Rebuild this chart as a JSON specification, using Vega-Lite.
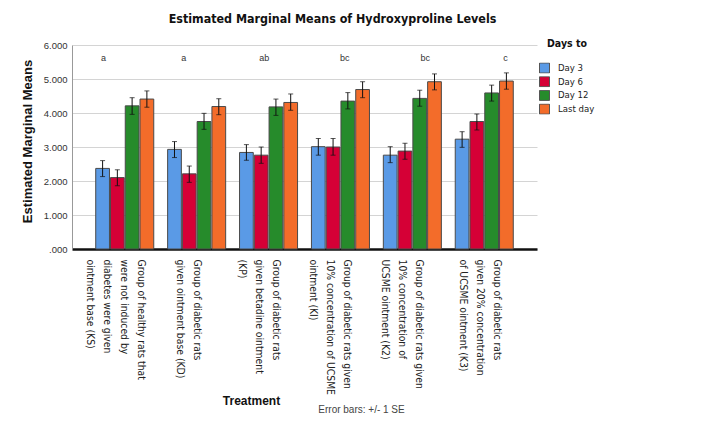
{
  "$schema": "https://vega.github.io/schema/vega-lite/v6.json",
  "autosize": "none",
  "width": 465,
  "height": 204,
  "padding": {"left": 72, "top": 45, "right": 183, "bottom": 180},
  "background": "white",
  "title": {
    "text": "Estimated Marginal Means of Hydroxyproline Levels",
    "font": "DejaVu Sans Condensed, DejaVu Sans",
    "fontSize": 12.4,
    "fontWeight": "bold",
    "color": "#111",
    "anchor": "middle",
    "dx": 28,
    "offset": 14
  },
  "config": {
    "view": {"stroke": null},
    "axis": {"labelFont": "Liberation Sans, Arial", "titleFont": "Liberation Sans, Arial"},
    "axisY": {
      "tickCount": 7,
      "labelOverlap": false,
      "labelFontSize": 9.5,
      "labelColor": "#333",
      "labelPadding": 5,
      "ticks": false,
      "domainColor": "#999",
      "gridColor": "#d4d4d4",
      "gridWidth": 1,
      "titleFontSize": 13,
      "titleFontWeight": "bold",
      "titleColor": "#111",
      "titlePadding": 9
    }
  },
  "datasets": {
    "bars": [
      {"treatment": "Group of healthy rats that|were not induced by|diabetes were given|ointment base (KS)", "day": "Day 3", "mean": 2.37, "lo": 2.13, "hi": 2.60},
      {"treatment": "Group of healthy rats that|were not induced by|diabetes were given|ointment base (KS)", "day": "Day 6", "mean": 2.10, "lo": 1.86, "hi": 2.33},
      {"treatment": "Group of healthy rats that|were not induced by|diabetes were given|ointment base (KS)", "day": "Day 12", "mean": 4.21, "lo": 3.96, "hi": 4.45},
      {"treatment": "Group of healthy rats that|were not induced by|diabetes were given|ointment base (KS)", "day": "Last day", "mean": 4.41, "lo": 4.17, "hi": 4.65},
      {"treatment": "Group of diabetic rats|given ointment base (KD)", "day": "Day 3", "mean": 2.93, "lo": 2.69, "hi": 3.16},
      {"treatment": "Group of diabetic rats|given ointment base (KD)", "day": "Day 6", "mean": 2.21, "lo": 1.96, "hi": 2.44},
      {"treatment": "Group of diabetic rats|given ointment base (KD)", "day": "Day 12", "mean": 3.75, "lo": 3.52, "hi": 3.99},
      {"treatment": "Group of diabetic rats|given ointment base (KD)", "day": "Last day", "mean": 4.19, "lo": 3.95, "hi": 4.42},
      {"treatment": "Group of diabetic rats|given betadine ointment|(KP)", "day": "Day 3", "mean": 2.84, "lo": 2.61, "hi": 3.07},
      {"treatment": "Group of diabetic rats|given betadine ointment|(KP)", "day": "Day 6", "mean": 2.76, "lo": 2.52, "hi": 3.00},
      {"treatment": "Group of diabetic rats|given betadine ointment|(KP)", "day": "Day 12", "mean": 4.18, "lo": 3.93, "hi": 4.41},
      {"treatment": "Group of diabetic rats|given betadine ointment|(KP)", "day": "Last day", "mean": 4.31, "lo": 4.08, "hi": 4.56},
      {"treatment": "Group of diabetic rats given|10% concentration of UCSME|ointment (KI)", "day": "Day 3", "mean": 3.01, "lo": 2.76, "hi": 3.25},
      {"treatment": "Group of diabetic rats given|10% concentration of UCSME|ointment (KI)", "day": "Day 6", "mean": 3.00, "lo": 2.76, "hi": 3.25},
      {"treatment": "Group of diabetic rats given|10% concentration of UCSME|ointment (KI)", "day": "Day 12", "mean": 4.35, "lo": 4.12, "hi": 4.60},
      {"treatment": "Group of diabetic rats given|10% concentration of UCSME|ointment (KI)", "day": "Last day", "mean": 4.69, "lo": 4.45, "hi": 4.92},
      {"treatment": "Group of diabetic rats given|10% concentration of|UCSME ointment (K2)", "day": "Day 3", "mean": 2.76, "lo": 2.54, "hi": 3.01},
      {"treatment": "Group of diabetic rats given|10% concentration of|UCSME ointment (K2)", "day": "Day 6", "mean": 2.88, "lo": 2.64, "hi": 3.11},
      {"treatment": "Group of diabetic rats given|10% concentration of|UCSME ointment (K2)", "day": "Day 12", "mean": 4.43, "lo": 4.20, "hi": 4.67},
      {"treatment": "Group of diabetic rats given|10% concentration of|UCSME ointment (K2)", "day": "Last day", "mean": 4.92, "lo": 4.68, "hi": 5.15},
      {"treatment": "Group of diabetic rats|given 20% concentration|of UCSME ointment (K3)", "day": "Day 3", "mean": 3.23, "lo": 2.99, "hi": 3.45},
      {"treatment": "Group of diabetic rats|given 20% concentration|of UCSME ointment (K3)", "day": "Day 6", "mean": 3.75, "lo": 3.50, "hi": 3.97},
      {"treatment": "Group of diabetic rats|given 20% concentration|of UCSME ointment (K3)", "day": "Day 12", "mean": 4.59, "lo": 4.35, "hi": 4.82},
      {"treatment": "Group of diabetic rats|given 20% concentration|of UCSME ointment (K3)", "day": "Last day", "mean": 4.94, "lo": 4.70, "hi": 5.18}
    ],
    "letters": [
      {"treatment": "Group of healthy rats that|were not induced by|diabetes were given|ointment base (KS)", "letter": "a"},
      {"treatment": "Group of diabetic rats|given ointment base (KD)", "letter": "a"},
      {"treatment": "Group of diabetic rats|given betadine ointment|(KP)", "letter": "ab"},
      {"treatment": "Group of diabetic rats given|10% concentration of UCSME|ointment (KI)", "letter": "bc"},
      {"treatment": "Group of diabetic rats given|10% concentration of|UCSME ointment (K2)", "letter": "bc"},
      {"treatment": "Group of diabetic rats|given 20% concentration|of UCSME ointment (K3)", "letter": "c"}
    ]
  },
  "layer": [
    {
      "data": {"name": "bars"},
      "encoding": {
        "x": {
          "field": "treatment",
          "type": "nominal",
          "sort": null,
          "scale": {"paddingInner": 0.193, "paddingOuter": 0.33},
          "axis": {
            "title": "Treatment",
            "titleFontSize": 12,
            "titleFontWeight": "bold",
            "titleColor": "#111",
            "titleX": 179,
            "titleY": 151,
            "titleBaseline": "middle",
            "titleAlign": "center",
            "labelExpr": "split(datum.label, '|')",
            "labelAngle": 90,
            "labelAlign": "left",
            "labelBaseline": "middle",
            "labelFont": "Liberation Sans Narrow, DejaVu Sans Condensed, sans-serif",
            "labelFontSize": 10.3,
            "labelLineHeight": 17,
            "labelColor": "#222",
            "labelOffset": {
              "condition": [
                {"test": "length(split(datum.value, '|')) == 4", "value": 16},
                {"test": "length(split(datum.value, '|')) == 2", "value": 0},
                {"test": "indexof(datum.value, '(K3)') >= 0", "value": 13}
              ],
              "value": 7
            },
            "labelPadding": 10,
            "labelLimit": 0,
            "ticks": false,
            "domainColor": "#111",
            "domainWidth": 2.5
          }
        },
        "xOffset": {
          "field": "day",
          "type": "nominal",
          "scale": {"domain": ["Day 3", "Day 6", "Day 12", "Last day"], "paddingInner": 0.07}
        }
      },
      "layer": [
        {
          "mark": {"type": "bar", "stroke": "#4a4a4a", "strokeWidth": 1},
          "encoding": {
            "y": {
              "field": "mean",
              "type": "quantitative",
              "scale": {"domain": [0, 6]},
              "axis": {
                "title": "Estimated Marginal Means",
                "titleY": 96,
                "values": [0, 1, 2, 3, 4, 5, 6],
                "labelExpr": "datum.value == 0 ? '.000' : format(datum.value, '.3f')"
              }
            },
            "color": {
              "field": "day",
              "type": "nominal",
              "scale": {
                "domain": ["Day 3", "Day 6", "Day 12", "Last day"],
                "range": ["#5a9ae6", "#d50036", "#268b2b", "#f36c2a"]
              },
              "legend": {
                "title": "Days to",
                "orient": "none",
                "legendX": 467,
                "legendY": -6,
                "titleFont": "Liberation Sans Narrow, DejaVu Sans Condensed, sans-serif",
                "titleFontSize": 10.5,
                "titleFontWeight": "bold",
                "titleColor": "#111",
                "titleAnchor": "middle",
                "titlePadding": 13,
                "labelFont": "Liberation Sans Narrow, DejaVu Sans Condensed, sans-serif",
                "labelFontSize": 9.5,
                "labelColor": "#222",
                "labelOffset": 8,
                "symbolType": "square",
                "symbolSize": 100,
                "symbolStrokeColor": "#555",
                "symbolStrokeWidth": 1,
                "clipHeight": 11,
                "rowPadding": 2.7
              }
            }
          }
        },
        {
          "mark": {"type": "rule", "color": "#111", "strokeWidth": 1},
          "encoding": {
            "y": {"field": "lo", "type": "quantitative"},
            "y2": {"field": "hi"}
          }
        },
        {
          "mark": {"type": "tick", "color": "#111", "size": 5, "thickness": 1},
          "encoding": {"y": {"field": "lo", "type": "quantitative"}}
        },
        {
          "mark": {"type": "tick", "color": "#111", "size": 5, "thickness": 1},
          "encoding": {"y": {"field": "hi", "type": "quantitative"}}
        }
      ]
    },
    {
      "data": {"name": "letters"},
      "mark": {"type": "text", "font": "Liberation Sans, Arial", "fontSize": 9, "color": "#333", "baseline": "middle"},
      "encoding": {
        "x": {
          "field": "treatment",
          "type": "nominal",
          "sort": null,
          "scale": {"type": "point", "padding": 0.39},
          "axis": {
            "orient": "bottom",
            "title": "Error bars: +/- 1 SE",
            "titleFontSize": 10,
            "titleFontWeight": "normal",
            "titleColor": "#444",
            "titleX": 289,
            "titleY": 160,
            "titleBaseline": "middle",
            "titleAlign": "center",
            "labels": false,
            "ticks": false,
            "domain": false,
            "grid": false
          }
        },
        "y": {"datum": 5.63, "type": "quantitative"},
        "text": {"field": "letter"}
      }
    }
  ],
  "resolve": {"scale": {"x": "independent"}, "axis": {"x": "independent"}}
}
